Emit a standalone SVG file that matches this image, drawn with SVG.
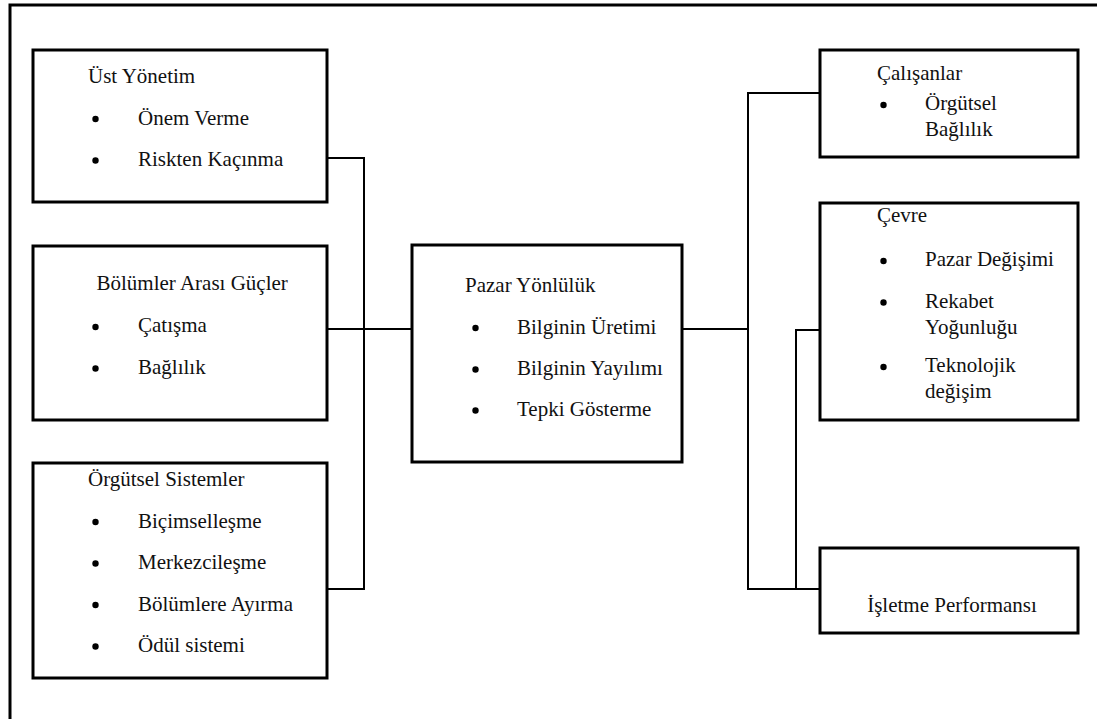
<svg xmlns="http://www.w3.org/2000/svg" width="1097" height="719" viewBox="0 0 1097 719">
  <style>
    .box { fill: #ffffff; stroke: #000000; stroke-width: 3; }
    .frame { fill: none; stroke: #000000; stroke-width: 3; }
    .wire { fill: none; stroke: #000000; stroke-width: 2; }
    text { font-family: "Liberation Serif", "Times New Roman", serif; font-size: 21px; fill: #111111; }
    .dot { fill: #000000; }
  </style>
  <rect x="0" y="0" width="1097" height="719" fill="#ffffff"/>
  <!-- outer frame -->
  <path class="frame" d="M10,722 V5 H1100"/>

  <!-- connectors -->
  <g id="connectors">
    <path class="wire" d="M327,158 H364 V589 H327"/>
    <path class="wire" d="M327,329 H412"/>
    <path class="wire" d="M682,329 H748"/>
    <path class="wire" d="M822,93 H748 V589 H822"/>
    <path class="wire" d="M822,330 H796 V589"/>
  </g>

  <g id="ust-yonetim">
    <rect class="box" x="33" y="50" width="294" height="152"/>
    <text x="88" y="83">Üst Yönetim</text>
    <circle class="dot" cx="95.5" cy="119" r="3.2"/>
    <text x="138" y="124.5">Önem Verme</text>
    <circle class="dot" cx="95.5" cy="160.5" r="3.2"/>
    <text x="138" y="166">Riskten Kaçınma</text>
  </g>

  <g id="bolumler-arasi">
    <rect class="box" x="33" y="246" width="294" height="174"/>
    <text x="96.5" y="290">Bölümler Arası Güçler</text>
    <circle class="dot" cx="95.5" cy="327" r="3.2"/>
    <text x="138" y="332">Çatışma</text>
    <circle class="dot" cx="95.5" cy="368.5" r="3.2"/>
    <text x="138" y="374">Bağlılık</text>
  </g>

  <g id="orgutsel-sistemler">
    <rect class="box" x="33" y="463" width="294" height="215"/>
    <text x="88" y="485.5">Örgütsel Sistemler</text>
    <circle class="dot" cx="95.5" cy="522" r="3.2"/>
    <text x="138" y="527.5">Biçimselleşme</text>
    <circle class="dot" cx="95.5" cy="563.5" r="3.2"/>
    <text x="138" y="569">Merkezcileşme</text>
    <circle class="dot" cx="95.5" cy="605" r="3.2"/>
    <text x="138" y="610.5">Bölümlere Ayırma</text>
    <circle class="dot" cx="95.5" cy="646.5" r="3.2"/>
    <text x="138" y="652">Ödül sistemi</text>
  </g>

  <g id="pazar-yonluluk">
    <rect class="box" x="412" y="245" width="270" height="217"/>
    <text x="465" y="292">Pazar Yönlülük</text>
    <circle class="dot" cx="475.5" cy="328" r="3.2"/>
    <text x="517" y="333.5">Bilginin Üretimi</text>
    <circle class="dot" cx="475.5" cy="369.5" r="3.2"/>
    <text x="517" y="375">Bilginin Yayılımı</text>
    <circle class="dot" cx="475.5" cy="410.5" r="3.2"/>
    <text x="517" y="416">Tepki Gösterme</text>
  </g>

  <g id="calisanlar">
    <rect class="box" x="820" y="50" width="258" height="107"/>
    <text x="877" y="80">Çalışanlar</text>
    <circle class="dot" cx="883.5" cy="105" r="3.2"/>
    <text x="925" y="110">Örgütsel</text>
    <text x="925" y="136">Bağlılık</text>
  </g>

  <g id="cevre">
    <rect class="box" x="820" y="203" width="258" height="217"/>
    <text x="877" y="222">Çevre</text>
    <circle class="dot" cx="883.5" cy="261" r="3.2"/>
    <text x="925" y="266">Pazar Değişimi</text>
    <circle class="dot" cx="883.5" cy="302.5" r="3.2"/>
    <text x="925" y="307.5">Rekabet</text>
    <text x="925" y="333.5">Yoğunluğu</text>
    <circle class="dot" cx="883.5" cy="367" r="3.2"/>
    <text x="925" y="372">Teknolojik</text>
    <text x="925" y="398">değişim</text>
  </g>

  <g id="isletme-performansi">
    <rect class="box" x="820" y="548" width="258" height="85"/>
    <text x="952" y="612" text-anchor="middle">İşletme Performansı</text>
  </g>
</svg>
